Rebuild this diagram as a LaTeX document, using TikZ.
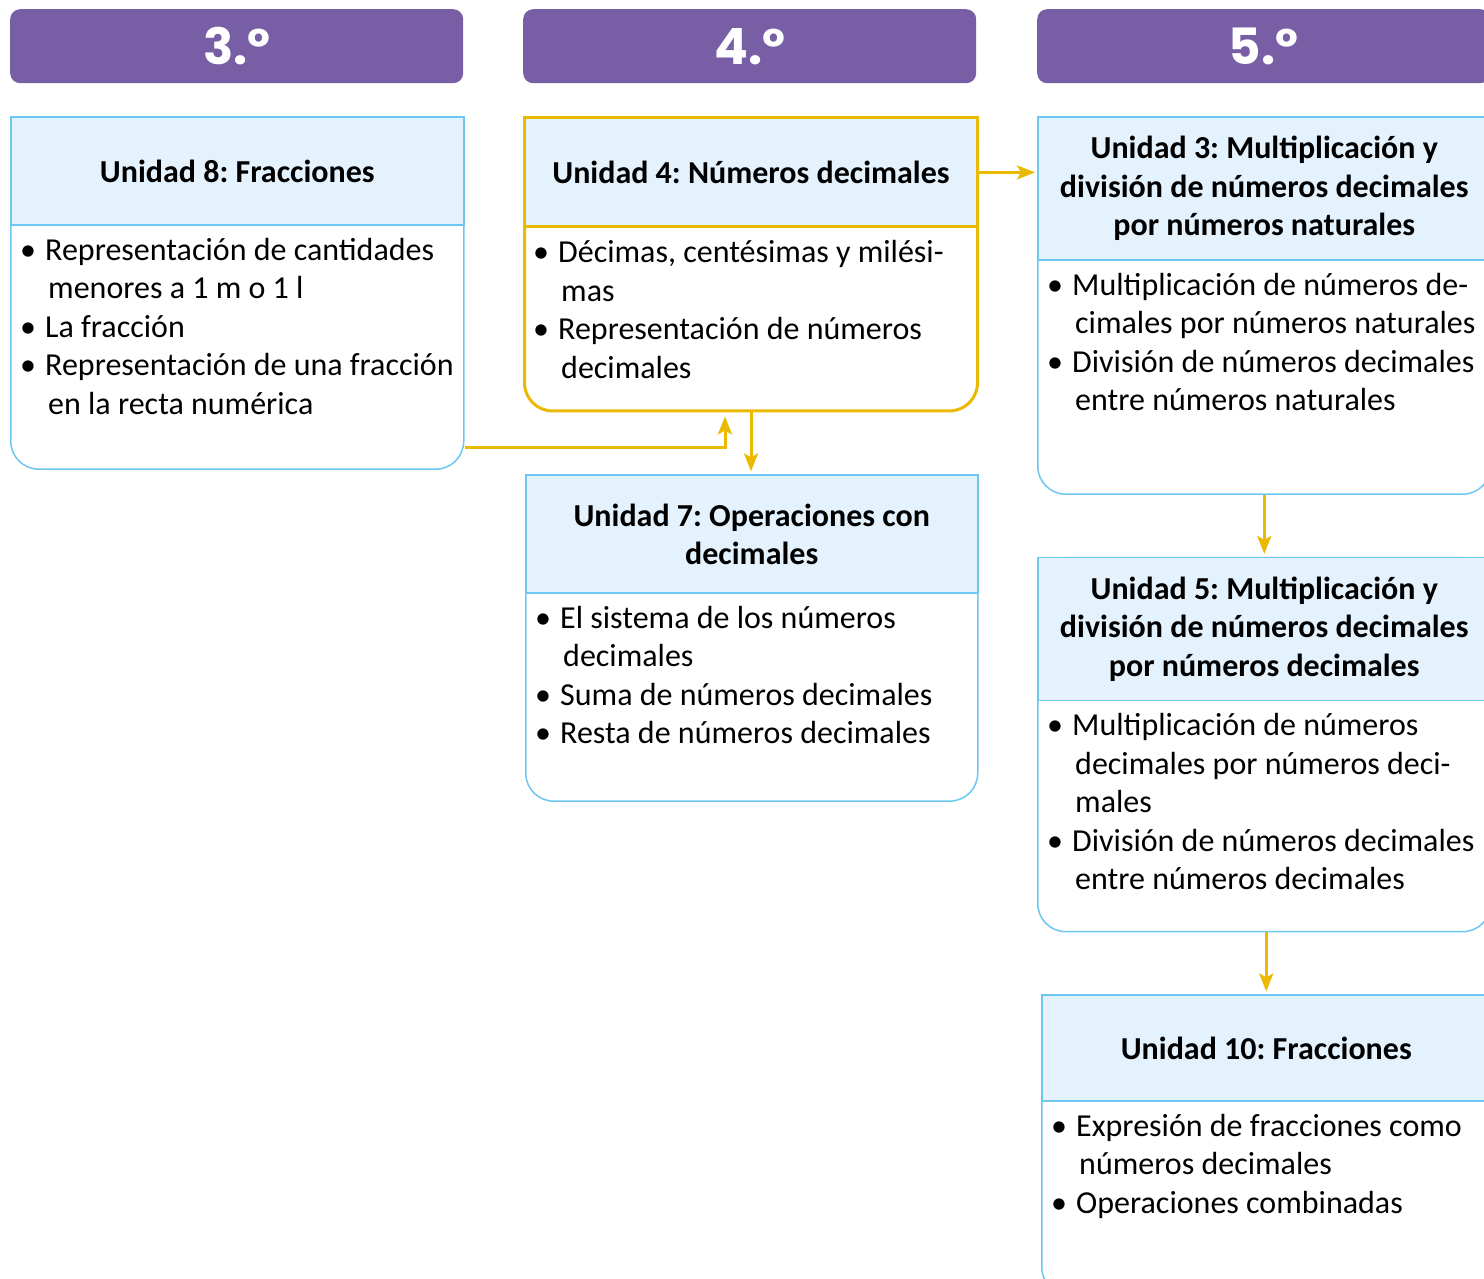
\documentclass[tikz,border=0pt]{standalone}
\usepackage{fontspec}
\setmainfont{Carlito}
\newfontfamily\gradofont{Poppins}
\usetikzlibrary{arrows.meta, positioning}
\definecolor{gradomorado}{RGB}{119,94,165}
\definecolor{unidadazul}{RGB}{108,200,240}
\definecolor{unidadfondo}{RGB}{227,242,253}
\definecolor{flechaamarilla}{RGB}{234,185,0}
\newcommand{\vineta}{\strut\makebox[25pt][l]{\textbullet}}
\newcommand{\sangria}{\hspace*{28pt}}

\begin{document}
\begin{tikzpicture}[
    x=1pt, y=-1pt,
    grado/.style={rectangle, fill=gradomorado, rounded corners=10pt, minimum width=453pt, minimum height=74pt, inner sep=0pt, text=white, font=\gradofont\bfseries\fontsize{50}{60}\selectfont},
    marco/.style={rectangle, draw=unidadazul, line width=1.5pt, fill=white, rounded corners=28pt, minimum width=453pt, inner sep=0pt},
    titulo/.style={rectangle, draw=unidadazul, line width=1.5pt, fill=unidadfondo, minimum width=453pt, inner sep=0pt, align=center, font=\frenchspacing\bfseries\fontsize{32}{38.5}\selectfont},
    cuerpo/.style={inner xsep=10pt, inner ysep=7pt, align=left, font=\frenchspacing\fontsize{32}{38.5}\selectfont},
    flecha/.style={-{Stealth[length=18pt, width=14pt, inset=4pt]}, line width=3pt, flechaamarilla}
]
\clip (0,0) rectangle (1484,1278);

% Grados
\node[grado, anchor=north west] (g3) at (10,9) {3.º};
\node[grado, anchor=north west] (g4) at (523,9) {4.º};
\node[grado, anchor=north west] (g5) at (1037,9) {5.º};

% 3.er grado
\node[marco, minimum height=352pt, below right=33pt and 0pt of g3.south west] (u8) {};
\node[titulo, minimum height=108pt, anchor=north west] (u8t) at (u8.north west) {Unidad 8: Fracciones};
\node[cuerpo, anchor=north west] (u8b) at (u8t.south west) {
    \vineta Representación de cantidades\\
    \sangria menores a 1 m o 1 l\\
    \vineta La fracción\\
    \vineta Representación de una fracción\\
    \sangria en la recta numérica
};

% 4.o grado
\node[marco, draw=flechaamarilla, line width=3pt, minimum height=293pt, below right=33pt and 0pt of g4.south west] (u4) {};
\node[titulo, draw=flechaamarilla, line width=3pt, minimum height=109pt, anchor=north west] (u4t) at (u4.north west) {Unidad 4: Números decimales};
\node[cuerpo, anchor=north west] (u4b) at (u4t.south west) {
    \vineta Décimas, centésimas y milési-\\
    \sangria mas\\
    \vineta Representación de números\\
    \sangria decimales
};

\node[marco, minimum height=326pt, minimum width=452pt, below right=62pt and 2pt of u4.south west] (u7) {};
\node[titulo, minimum height=118pt, minimum width=452pt, anchor=north west] (u7t) at (u7.north west) {Unidad 7: Operaciones con\\decimales};
\node[cuerpo, anchor=north west] (u7b) at (u7t.south west) {
    \vineta El sistema de los números\\
    \sangria decimales\\
    \vineta Suma de números decimales\\
    \vineta Resta de números decimales
};

% 5.o grado
\node[marco, minimum height=377pt, below right=33pt and 0pt of g5.south west] (u3) {};
\node[titulo, minimum height=143pt, anchor=north west] (u3t) at (u3.north west) {Unidad 3: Multiplicación y\\división de números decimales\\por números naturales};
\node[cuerpo, anchor=north west] (u3b) at (u3t.south west) {
    \vineta Multiplicación de números de-\\
    \sangria cimales por números naturales\\
    \vineta División de números decimales\\
    \sangria entre números naturales
};

\node[marco, minimum height=374pt, below right=62pt and 0pt of u3.south west] (u5) {};
\node[titulo, minimum height=143pt, anchor=north west] (u5t) at (u5.north west) {Unidad 5: Multiplicación y\\división de números decimales\\por números decimales};
\node[cuerpo, anchor=north west] (u5b) at (u5t.south west) {
    \vineta Multiplicación de números\\
    \sangria decimales por números deci-\\
    \sangria males\\
    \vineta División de números decimales\\
    \sangria entre números decimales
};

\node[marco, minimum height=300pt, minimum width=449pt, below right=62pt and 4pt of u5.south west] (u6) {};
\node[titulo, minimum height=106pt, minimum width=449pt, anchor=north west] (u6t) at (u6.north west) {Unidad 10: Fracciones};
\node[cuerpo, anchor=north west] (u6b) at (u6t.south west) {
    \vineta Expresión de fracciones como\\
    \sangria números decimales\\
    \vineta Operaciones combinadas
};

% Flechas
\draw[flecha, shorten >=2pt] (u4t.east) -- (u4t.east -| u3.west);
\draw[flecha, shorten >=4pt] ([yshift=22pt]u8.south east) -| ([xshift=-26pt]u4.south);
\draw[flecha, shorten >=3pt] (u4.south) -- (u4.south |- u7.north);
\draw[flecha, shorten >=3pt] (u3.south) -- (u5.north);
\draw[flecha, shorten >=3pt] (u6.north |- u5.south) -- (u6.north);

\end{tikzpicture}
\end{document}
